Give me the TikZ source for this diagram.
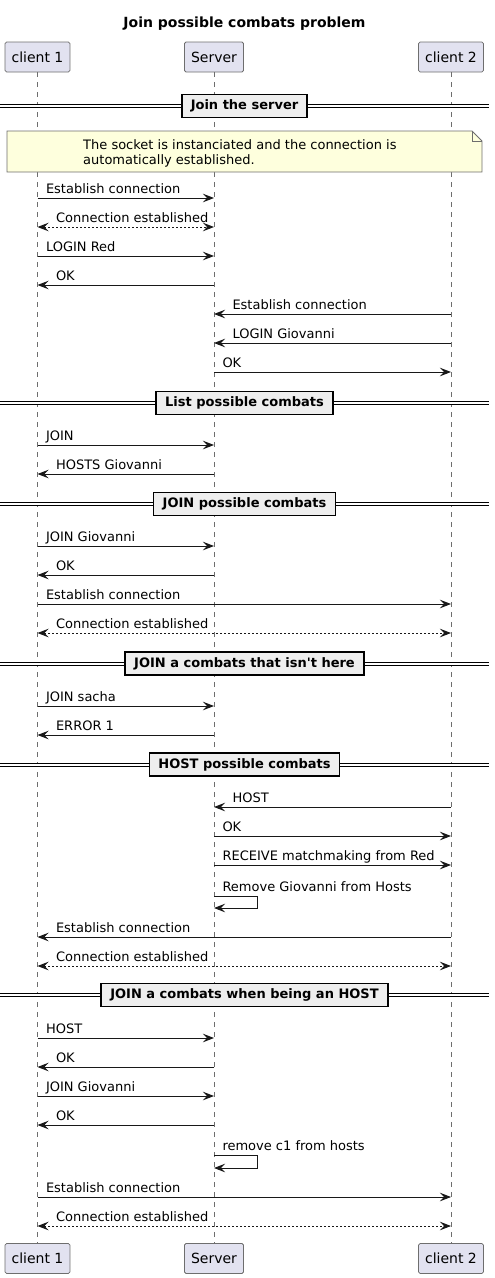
\documentclass[tikz,border=0pt]{standalone}
\usepackage{fontspec}
\setmainfont{DejaVu Sans}
\usetikzlibrary{arrows.meta}

\definecolor{partfill}{HTML}{E2E2F0}
\definecolor{notefill}{HTML}{FEFFDD}
\definecolor{divfill}{HTML}{EEEEEE}
\definecolor{edgegray}{HTML}{6E6E6E}
\definecolor{inkblack}{HTML}{181818}

\tikzset{
  part/.style={draw=edgegray, line width=0.8pt, fill=partfill, rounded corners=1.5pt,
    minimum height=30pt, inner xsep=6.5pt, inner ysep=0pt, font=\fontsize{14}{16}\selectfont},
  lifeline/.style={draw=edgegray, line width=0.8pt, dash pattern=on 5pt off 5pt},
  msg/.style={->, draw=inkblack, line width=1pt},
  reply/.style={<->, draw=inkblack, line width=1pt, dash pattern=on 2pt off 2pt},
  rlbl/.style={anchor=base west, xshift=8pt, yshift=5pt, inner sep=0pt, font=\fontsize{13}{15}\selectfont},
  llbl/.style={anchor=base west, xshift=18pt, yshift=5pt, inner sep=0pt, font=\fontsize{13}{15}\selectfont},
  sepline/.style={draw=black, line width=1pt, double=white, double distance=2pt},
  divider/.style={draw=black, line width=1.6pt, fill=divfill, minimum height=23pt,
    inner xsep=9pt, inner ysep=0pt, font=\fontsize{13}{15}\selectfont\bfseries},
  notebox/.style={draw=edgegray, line width=0.8pt, fill=notefill, line join=miter}
}

\begin{document}
\begin{tikzpicture}[x=1pt, y=-1pt, >={Stealth[length=11pt, width=8.5pt, inset=4pt]}]
  \useasboundingbox (0,0) rectangle (495,1278);

  % Title
  \node[anchor=base, font=\fontsize{14}{16}\selectfont\bfseries] (title) at (244.5,27) {Join possible combats problem};

  % Participants
  \node[part] (c1top) at (37.5,57) {client 1};
  \node[part] (srvtop) at (214,57) {Server};
  \node[part] (c2top) at (451,57) {client 2};
  \node[part] (c1bot) at (37.5,1258.5) {client 1};
  \node[part] (srvbot) at (214,1258.5) {Server};
  \node[part] (c2bot) at (451,1258.5) {client 2};

  % Lifelines
  \draw[lifeline] (c1top) -- (c1bot);
  \draw[lifeline] (srvtop) -- (srvbot);
  \draw[lifeline] (c2top) -- (c2bot);

  % Join the server
  \draw[sepline] (0,106) -- (489,106) node[divider, midway] (d1) {Join the server};
  \draw[notebox] (7,131) -- (472,131) -- (482,141) -- (482,172) -- (7,172) -- cycle;
  \draw[notebox, fill=none] (472,131) -- (472,141) -- (482,141);
  \node[anchor=north west, align=left, inner sep=0pt, font=\fontsize{13}{15}\selectfont] (note) at (83,139)
    {The socket is instanciated and the connection is\\automatically established.};
  \draw[msg] (c1top |- 0,198) node[rlbl] {Establish connection} -- (srvtop |- 0,198);
  \draw[reply] (c1top |- 0,227) node[llbl] {Connection established} -- (srvtop |- 0,227);
  \draw[msg] (c1top |- 0,256) node[rlbl] {LOGIN Red} -- (srvtop |- 0,256);
  \draw[msg] (srvtop |- 0,285) -- (c1top |- 0,285) node[llbl] {OK};
  \draw[msg] (c2top |- 0,314) -- (srvtop |- 0,314) node[llbl] {Establish connection};
  \draw[msg] (c2top |- 0,343) -- (srvtop |- 0,343) node[llbl] {LOGIN Giovanni};
  \draw[msg] (srvtop |- 0,372) node[rlbl] {OK} -- (c2top |- 0,372);

  % List possible combats
  \draw[sepline] (0,403) -- (489,403) node[divider, midway] (d2) {List possible combats};
  \draw[msg] (c1top |- 0,445) node[rlbl] {JOIN} -- (srvtop |- 0,445);
  \draw[msg] (srvtop |- 0,474) -- (c1top |- 0,474) node[llbl] {HOSTS Giovanni};

  % JOIN possible combats
  \draw[sepline] (0,504) -- (489,504) node[divider, midway] (d3) {JOIN possible combats};
  \draw[msg] (c1top |- 0,546) node[rlbl] {JOIN Giovanni} -- (srvtop |- 0,546);
  \draw[msg] (srvtop |- 0,575) -- (c1top |- 0,575) node[llbl] {OK};
  \draw[msg] (c1top |- 0,604) node[rlbl] {Establish connection} -- (c2top |- 0,604);
  \draw[reply] (c1top |- 0,633) node[llbl] {Connection established} -- (c2top |- 0,633);

  % JOIN a combats that isn't here
  \draw[sepline] (0,663.5) -- (489,663.5) node[divider, midway] (d4) {JOIN a combats that isn\textquotesingle t here};
  \draw[msg] (c1top |- 0,706) node[rlbl] {JOIN sacha} -- (srvtop |- 0,706);
  \draw[msg] (srvtop |- 0,735) -- (c1top |- 0,735) node[llbl] {ERROR 1};

  % HOST possible combats
  \draw[sepline] (0,764.5) -- (489,764.5) node[divider, midway] (d5) {HOST possible combats};
  \draw[msg] (c2top |- 0,807) -- (srvtop |- 0,807) node[llbl] {HOST};
  \draw[msg] (srvtop |- 0,836) node[rlbl] {OK} -- (c2top |- 0,836);
  \draw[msg] (srvtop |- 0,865) node[rlbl] {RECEIVE matchmaking from Red} -- (c2top |- 0,865);
  \draw[msg] (srvtop |- 0,896) node[rlbl] {Remove Giovanni from Hosts} -- ++(43,0) -- ++(0,12) -- (srvtop |- 0,908);
  \draw[msg] (c2top |- 0,937) -- (c1top |- 0,937) node[llbl] {Establish connection};
  \draw[reply] (c1top |- 0,966) node[llbl] {Connection established} -- (c2top |- 0,966);

  % JOIN a combats when being an HOST
  \draw[sepline] (0,995) -- (489,995) node[divider, midway] (d6) {JOIN a combats when being an HOST};
  \draw[msg] (c1top |- 0,1038) node[rlbl] {HOST} -- (srvtop |- 0,1038);
  \draw[msg] (srvtop |- 0,1067) -- (c1top |- 0,1067) node[llbl] {OK};
  \draw[msg] (c1top |- 0,1096) node[rlbl] {JOIN Giovanni} -- (srvtop |- 0,1096);
  \draw[msg] (srvtop |- 0,1125) -- (c1top |- 0,1125) node[llbl] {OK};
  \draw[msg] (srvtop |- 0,1155) node[rlbl] {remove c1 from hosts} -- ++(43,0) -- ++(0,13) -- (srvtop |- 0,1168);
  \draw[msg] (c1top |- 0,1197) node[rlbl] {Establish connection} -- (c2top |- 0,1197);
  \draw[reply] (c1top |- 0,1226) node[llbl] {Connection established} -- (c2top |- 0,1226);
\end{tikzpicture}
\end{document}
